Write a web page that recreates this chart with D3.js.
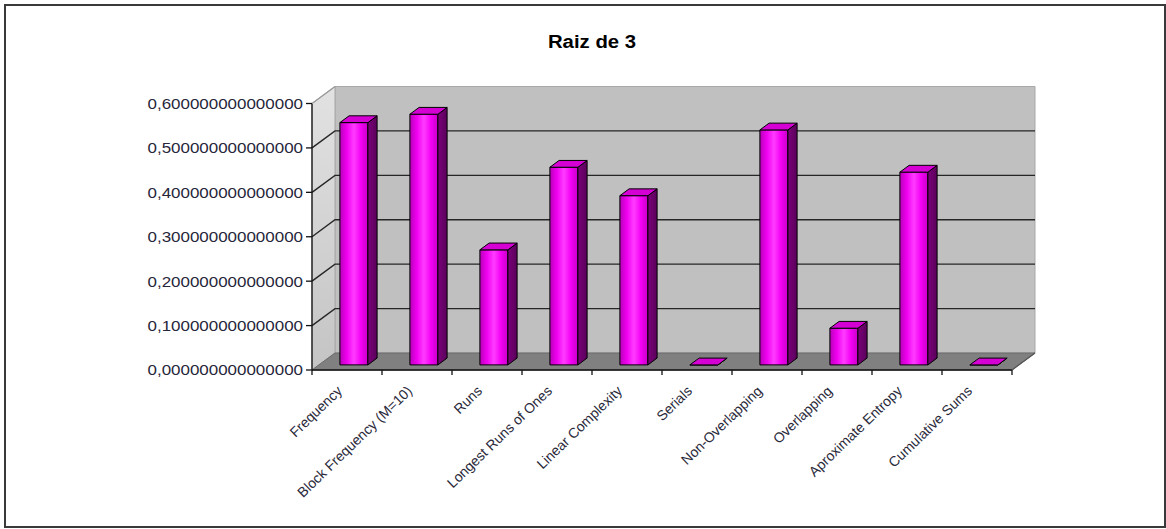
<!DOCTYPE html>
<html>
<head>
<meta charset="utf-8">
<script src="https://cdn.jsdelivr.net/npm/d3@7"></script>
<style>
  html, body { margin: 0; padding: 0; background: #fff; }
  svg { display: block; font-family: Arial, "Liberation Sans", sans-serif; }
</style>
</head>
<body>
<svg id="chart" width="1166" height="529"></svg>
<script>
// NIST test results for the square root of 3 expansion
const categories = [
  "Frequency", "Block Frequency (M=10)", "Runs", "Longest Runs of Ones",
  "Linear Complexity", "Serials", "Non-Overlapping", "Overlapping",
  "Aproximate Entropy", "Cumulative Sums"
];
const values = [0.5455, 0.5644, 0.259, 0.445, 0.381, 0.0, 0.529, 0.0826, 0.434, 0.0];
const yTicks = [0, 0.1, 0.2, 0.3, 0.4, 0.5, 0.6];
const title = "Raiz de 3";

const svg = d3.select("#chart");

// outer frame
svg.append("rect")
  .attr("x", 5).attr("y", 5).attr("width", 1160).attr("height", 522)
  .attr("fill", "#fff").attr("stroke", "#3a3a3a").attr("stroke-width", 2);

// plot geometry (front plane + depth offset of the 3D box)
const left = 312, right = 1012, base = 370, topY = 103.5;
const depth = { x: 23, y: -17 };

const x = d3.scaleBand().domain(categories).range([left, right]).paddingInner(0).paddingOuter(0);
const y = d3.scaleLinear().domain([0, 0.6]).range([base, topY]);

// project a point at a given depth fraction (0 = front, 1 = back wall)
const P = (px, py, t) => [px + depth.x * t, py + depth.y * t];
const poly = pts => pts.map(p => p.join(",")).join(" ");

const defs = svg.append("defs");
const sideGrad = defs.append("linearGradient").attr("id", "sideWall")
  .attr("x1", 0).attr("y1", 0).attr("x2", 0).attr("y2", 1);
sideGrad.append("stop").attr("offset", "0%").attr("stop-color", "#e2e2e2");
sideGrad.append("stop").attr("offset", "100%").attr("stop-color", "#c4c4c4");

const frontGrad = defs.append("linearGradient").attr("id", "barFront")
  .attr("x1", 0).attr("y1", 0).attr("x2", 1).attr("y2", 0);
[["0%", "#b800b8"], ["25%", "#f000f0"], ["50%", "#ff3cff"], ["75%", "#f400f4"], ["100%", "#c800c8"]]
  .forEach(([o, c]) => frontGrad.append("stop").attr("offset", o).attr("stop-color", c));

const sideBarGrad = defs.append("linearGradient").attr("id", "barSide")
  .attr("x1", 0).attr("y1", 0).attr("x2", 1).attr("y2", 0);
sideBarGrad.append("stop").attr("offset", "0%").attr("stop-color", "#7a007a");
sideBarGrad.append("stop").attr("offset", "100%").attr("stop-color", "#5a005a");

const walls = svg.append("g");

// back wall
walls.append("polygon")
  .attr("points", poly([P(left, y(0.6), 1), P(right, y(0.6), 1), P(right, y(0), 1), P(left, y(0), 1)]))
  .attr("fill", "#c0c0c0").attr("stroke", "#a8a8a8").attr("stroke-width", 1);

// side wall
walls.append("polygon")
  .attr("points", poly([P(left, y(0), 0), P(left, y(0.6), 0), P(left, y(0.6), 1), P(left, y(0), 1)]))
  .attr("fill", "url(#sideWall)").attr("stroke", "#a8a8a8").attr("stroke-width", 1);

// floor
walls.append("polygon")
  .attr("points", poly([P(left, y(0), 0), P(right, y(0), 0), P(right, y(0), 1), P(left, y(0), 1)]))
  .attr("fill", "#808080").attr("stroke", "#6a6a6a").attr("stroke-width", 1);

// gridlines: side wall diagonal + back wall horizontal
const grid = svg.append("g").attr("stroke", "#262626").attr("stroke-width", 1.4).attr("fill", "none");
yTicks.filter(v => v > 0 && v < 0.6).forEach(v => {
  const a = P(left, y(v), 0), b = P(left, y(v), 1), c = P(right, y(v), 1);
  grid.append("polyline").attr("points", poly([a, b, c]));
});

// axes lines
const axes = svg.append("g").attr("stroke", "#111").attr("stroke-width", 1.3).attr("fill", "none");
axes.append("line").attr("x1", left).attr("x2", left).attr("y1", y(0.6)).attr("y2", base);
axes.append("line").attr("x1", left).attr("x2", right).attr("y1", base).attr("y2", base);
axes.append("polyline").attr("points", poly([P(right, y(0), 0), P(right, y(0), 1)]))
  .attr("stroke", "#555");
// diagonal side wall edges at top and bottom
axes.append("line")
  .attr("x1", P(left, y(0.6), 0)[0]).attr("y1", P(left, y(0.6), 0)[1])
  .attr("x2", P(left, y(0.6), 1)[0]).attr("y2", P(left, y(0.6), 1)[1])
  .attr("stroke", "#9a9a9a");

// y ticks and labels
const yAxis = svg.append("g");
yTicks.forEach(v => {
  yAxis.append("line").attr("x1", left - 6).attr("x2", left).attr("y1", y(v)).attr("y2", y(v))
    .attr("stroke", "#111").attr("stroke-width", 1.3);
  yAxis.append("text")
    .attr("transform", `translate(303,${y(v)}) scale(1.13,1)`)
    .attr("text-anchor", "end").attr("dy", "0.36em")
    .attr("font-size", 15).attr("fill", "#26263a")
    .text(v.toFixed(15).replace(".", ","));
});

// x ticks at category boundaries
const xAxis = svg.append("g");
const bounds = categories.map(c => x(c)).concat([right]);
bounds.forEach(b => {
  xAxis.append("line").attr("x1", b).attr("x2", b).attr("y1", base).attr("y2", base + 5)
    .attr("stroke", "#111").attr("stroke-width", 1.3);
});

// category labels, rotated
categories.forEach(c => {
  const cx = x(c) + x.bandwidth() / 2;
  xAxis.append("text")
    .attr("transform", `translate(${cx - 4},${base + 22}) rotate(-44)`)
    .attr("text-anchor", "end")
    .attr("font-size", 14).attr("fill", "#2a2a3a")
    .text(c);
});

// 3D columns
const barW = x.bandwidth() * 0.4;
const t0 = 0.3, t1 = 0.7;
const bars = svg.append("g").attr("stroke", "#000").attr("stroke-width", 1).attr("stroke-linejoin", "round");
categories.forEach((c, i) => {
  const x0 = x(c) + (x.bandwidth() - barW) / 2, x1 = x0 + barW;
  const yt = y(values[i]), yb = y(0);
  const g = bars.append("g");
  // front face
  g.append("polygon")
    .attr("points", poly([P(x0, yb, t0), P(x1, yb, t0), P(x1, yt, t0), P(x0, yt, t0)]))
    .attr("fill", "url(#barFront)");
  // right side face
  g.append("polygon")
    .attr("points", poly([P(x1, yb, t0), P(x1, yb, t1), P(x1, yt, t1), P(x1, yt, t0)]))
    .attr("fill", "url(#barSide)");
  // top face
  g.append("polygon")
    .attr("points", poly([P(x0, yt, t0), P(x1, yt, t0), P(x1, yt, t1), P(x0, yt, t1)]))
    .attr("fill", "#d400d4");
});

// title
svg.append("text")
  .attr("transform", "translate(592,48) scale(1.13,1)")
  .attr("text-anchor", "middle")
  .attr("font-size", 18).attr("font-weight", "bold").attr("fill", "#000")
  .text(title);
</script>
</body>
</html>
